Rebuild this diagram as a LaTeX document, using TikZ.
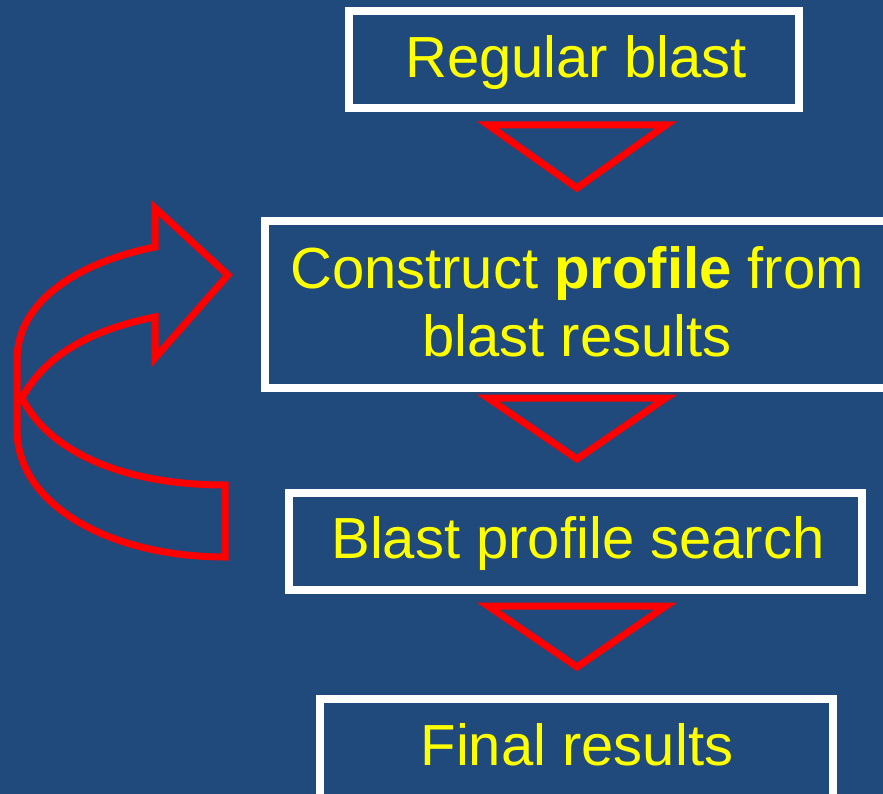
\documentclass[tikz,border=0pt]{standalone}
\usepackage{fontspec}
\setmainfont{Liberation Sans}
\definecolor{bgblue}{RGB}{32,73,124}
\definecolor{txtyellow}{RGB}{255,255,0}
\definecolor{arrred}{RGB}{255,0,0}
\tikzset{
  stepbox/.style={draw=white, line width=8pt, minimum width=#1, inner sep=0pt, outer sep=0pt},
  label text/.style={text=txtyellow, anchor=base, inner sep=0pt, font=\fontsize{58}{67}\selectfont},
  downtri/.style={draw=arrred, line width=7pt, line join=miter},
  bigarrow/.style={draw=arrred, line width=7pt, line join=miter}
}
\begin{document}
\begin{tikzpicture}[x=1pt,y=-1pt]
\useasboundingbox (0,0) rectangle (883,794);
\fill[bgblue] (0,0) rectangle (883,794);
\clip (0,0) rectangle (883,794);
% boxes
\node[stepbox=450pt, minimum height=97pt] (b1) at (574,59.5) {};
\node[stepbox=700pt, minimum height=167pt] (b2) at (615,304.5) {};
\node[stepbox=573pt, minimum height=97pt] (b3) at (575.5,541.5) {};
\node[stepbox=513pt, minimum height=140pt] (b4) at (576.5,769) {};
% texts
\node[label text] (t1) at (576,78) {Regular blast};
\node[label text] (t2a) at (577,288) {Construct \textbf{profile} from};
\node[label text] (t2b) at (577,356) {blast results};
\node[label text] (t3) at (578,558) {Blast profile search};
\node[label text] (t4) at (577,765) {Final results};
% down triangles
\draw[downtri] (488,125) -- (666,125) -- (577,188) -- cycle;
\draw[downtri] (488,398) -- (666,398) -- (577,459) -- cycle;
\draw[downtri] (488,606) -- (666,606) -- (577,667) -- cycle;
% curved arrow
\draw[bigarrow] (155,247) .. controls (80,262) and (17,300) .. (17,360)
  -- (17,430) .. controls (17,505) and (110,557) .. (225,557)
  -- (225,485) .. controls (120,485) and (48,450) .. (22,398)
  .. controls (48,350) and (100,328) .. (155,317)
  -- (155,358) -- (228,275) -- (155,208) -- cycle;
\end{tikzpicture}
\end{document}
